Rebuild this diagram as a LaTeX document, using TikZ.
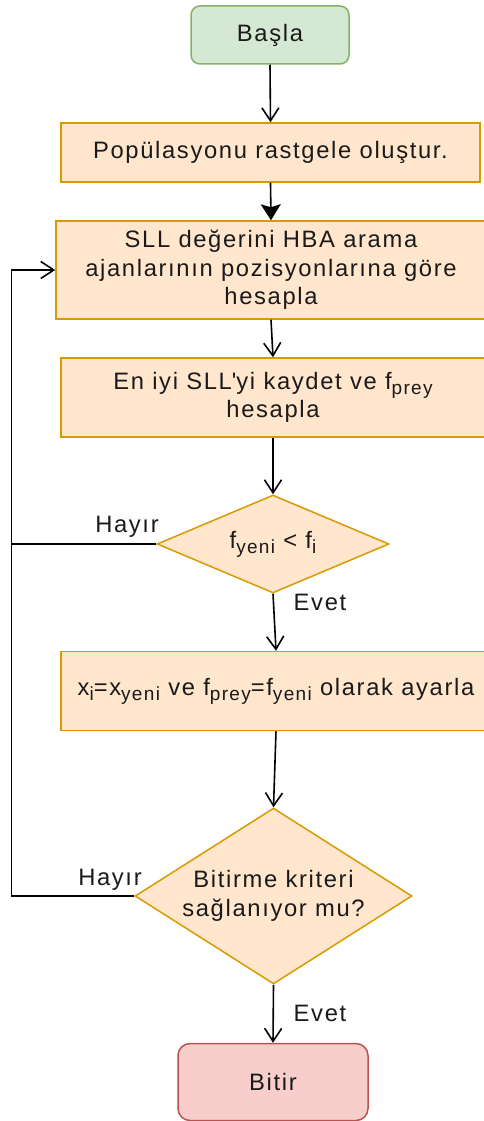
\documentclass[tikz,border=0pt]{standalone}
\usepackage{fontspec}
\setmainfont[LetterSpace=7]{Liberation Sans}
\newfontfamily\apfont[LetterSpace=7,Ligatures=ResetAll]{Liberation Sans}
\usetikzlibrary{shapes.geometric,arrows.meta}
\definecolor{procfill}{HTML}{FFE6CC}
\definecolor{procline}{HTML}{D79B00}
\definecolor{startfill}{HTML}{D5E8D4}
\definecolor{startline}{HTML}{82B366}
\definecolor{endfill}{HTML}{F8CECC}
\definecolor{endline}{HTML}{B85450}
\definecolor{txt}{HTML}{1A1A1A}
\newcommand{\sbs}[1]{\raisebox{-5pt}{\fontsize{19}{19}\selectfont #1}}
\begin{document}
\begin{tikzpicture}[x=1pt,y=-1pt,
  font=\fontsize{23.75}{28.5}\selectfont,
  every node/.style={text=txt},
  proc/.style={rectangle, draw=procline, fill=procfill, line width=1.5pt, inner sep=0pt, align=center},
  decision/.style={diamond, draw=procline, fill=procfill, line width=1.5pt, inner sep=0pt, align=center},
  startbox/.style={rectangle, rounded corners=9pt, draw=startline, fill=startfill, line width=1.5pt, inner sep=0pt},
  endbox/.style={rectangle, rounded corners=12pt, draw=endline, fill=endfill, line width=1.5pt, inner sep=0pt},
  conn/.style={line width=1.6pt, -{Straight Barb[length=13pt,width=17pt,line width=1.6pt]}},
  connfill/.style={line width=1.6pt, -{Stealth[length=16pt,width=20pt,inset=3pt]}},
  plain/.style={line width=1.6pt},
  lbl/.style={anchor=base, inner sep=0pt}
]
\useasboundingbox (0,0) rectangle (484,1121);

\node[startbox, minimum width=158pt, minimum height=58pt] (start) at (270,35) {Başla};
\node[proc, minimum width=419pt, minimum height=59pt] (b1) at (270.5,152.5) {Popülasyonu rastgele oluştur.};
\node[proc, minimum width=430pt, minimum height=98pt] (b2) at (271,270) {SLL değerini HBA arama\\ajanlarının pozisyonlarına göre\\hesapla};
\node[proc, minimum width=424pt, minimum height=79pt] (b3) at (273,397.5) {En iyi SLL{\apfont '}yi kaydet ve f\sbs{prey}\\hesapla};
\node[decision, shape aspect=2.37, minimum width=232pt, minimum height=98pt] (d1) at (273,544) {f\sbs{yeni} < f\sbs{i}};
\node[proc, minimum width=430pt, minimum height=79pt] (b4) at (276,691) {x\sbs{i}=x\sbs{yeni} ve f\sbs{prey}=f\sbs{yeni} olarak ayarla};
\node[decision, shape aspect=1.57, minimum width=277pt, minimum height=176pt] (d2) at (273.5,896) {Bitirme kriteri\\sağlanıyor mu?};
\node[endbox, minimum width=190pt, minimum height=77pt] (stop) at (273,1082) {Bitir};

\coordinate (L0) at (11.5,270);
\coordinate (L1) at (11.5,544);
\coordinate (L2) at (11.5,896);

\draw[conn] (start.south) -- (b1.north);
\draw[connfill] (b1.south) -- (b2.north);
\draw[conn] (b2.south) -- (b3.north);
\draw[conn] (b3.south) -- (d1.north);
\draw[conn] (d1.south) -- (b4.north);
\draw[conn] (b4.south) -- (d2.north);
\draw[conn] (d2.south) -- (stop.north);
\draw[plain] (d1.west) -- (L1);
\draw[conn] (d2.west) -- (L2) -- (L0) -- (b2.west);

\node[lbl] (h1) at (127,532) {Hayır};
\node[lbl] (e1) at (320,610.5) {Evet};
\node[lbl] (h2) at (110,885) {Hayır};
\node[lbl] (e2) at (320,1021.5) {Evet};
\end{tikzpicture}
\end{document}
